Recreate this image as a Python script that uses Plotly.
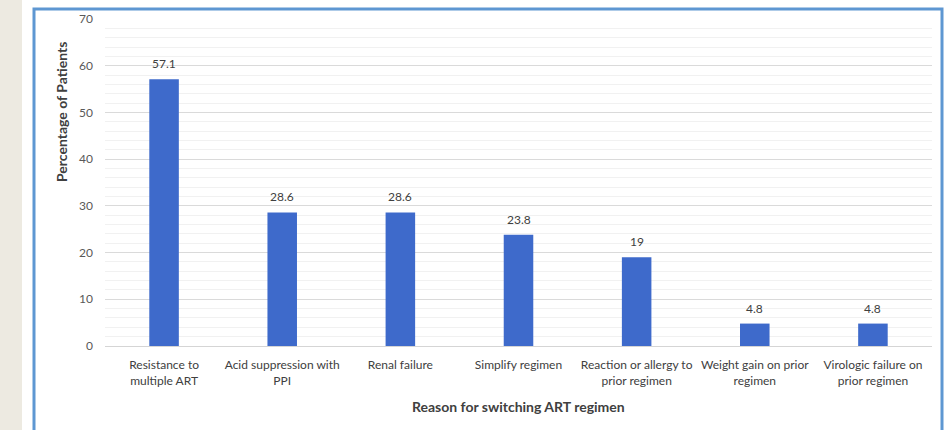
import plotly.graph_objects as go

categories = [
    "Resistance to<br>multiple ART",
    "Acid suppression with<br>PPI",
    "Renal failure",
    "Simplify regimen",
    "Reaction or allergy to<br>prior regimen",
    "Weight gain on prior<br>regimen",
    "Virologic failure on<br>prior regimen",
]
values = [57.1, 28.6, 28.6, 23.8, 19, 4.8, 4.8]
value_labels = ["57.1", "28.6", "28.6", "23.8", "19", "4.8", "4.8"]
y_ticks = [0, 10, 20, 30, 40, 50, 60, 70]

W, H = 947, 430
ML, MR, MT, MB = 105, 15, 19, 84
PW = W - ML - MR
PH = H - MT - MB

def px(x):
    return (x - ML) / PW

def py(y):
    return (H - MB - y) / PH

FONT = "Lato, 'Open Sans', sans-serif"

fig = go.Figure()
fig.add_trace(go.Bar(
    x=categories,
    y=values,
    marker=dict(color="#3E6ACB", line=dict(width=0)),
    width=0.25,
    hoverinfo="x+y",
))

annotations = [
    dict(x=c, y=v, text=t, xref="x", yref="y", showarrow=False,
         yanchor="bottom", yshift=6,
         font=dict(family=FONT, size=12, color="#404040"))
    for c, v, t in zip(categories, values, value_labels)
]
annotations += [
    dict(text="<b>Percentage of Patients</b>", xref="paper", yref="paper",
         x=px(62), y=py(112), textangle=-90, showarrow=False,
         font=dict(family=FONT, size=14, color="#404040"),
         xanchor="center", yanchor="middle"),
    dict(text="<b>Reason for switching ART regimen</b>", xref="paper", yref="paper",
         x=px(518), y=py(406), showarrow=False,
         font=dict(family=FONT, size=14, color="#404040"),
         xanchor="center", yanchor="middle"),
]

fig.update_layout(
    width=W, height=H,
    margin=dict(l=ML, r=MR, t=MT, b=MB),
    paper_bgcolor="white",
    plot_bgcolor="white",
    showlegend=False,
    font=dict(family=FONT, color="#595959"),
    xaxis=dict(
        showgrid=False,
        showline=False,
        ticks="",
        ticklabelstandoff=10,
        tickfont=dict(family=FONT, size=12, color="#404040"),
        tickangle=0,
        fixedrange=True,
    ),
    yaxis=dict(
        range=[0, 70],
        tickvals=y_ticks,
        showgrid=True,
        gridcolor="#DADADA",
        gridwidth=1,
        zeroline=True,
        zerolinecolor="#D5D5D5",
        zerolinewidth=1,
        showline=False,
        ticks="",
        ticklabelstandoff=11,
        tickfont=dict(family=FONT, size=12, color="#595959"),
        minor=dict(dtick=2, showgrid=True, gridcolor="#F1F1F1", gridwidth=1),
        fixedrange=True,
    ),
    shapes=[
        dict(type="rect", xref="paper", yref="paper",
             x0=px(0), x1=px(22), y0=py(H + 5), y1=py(-5),
             fillcolor="#EDEAE1", line=dict(width=0), layer="below"),
        dict(type="rect", xref="paper", yref="paper",
             x0=px(34), x1=px(942), y0=py(H + 10), y1=py(9),
             fillcolor="rgba(0,0,0,0)", line=dict(color="#5E97D2", width=3),
             layer="above"),
    ],
    annotations=annotations,
)

fig.write_html("out.html")
